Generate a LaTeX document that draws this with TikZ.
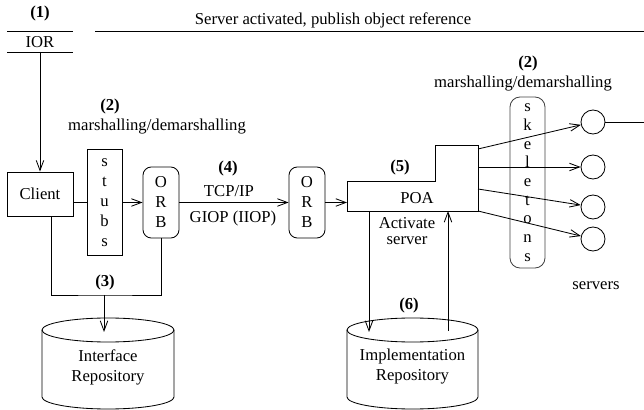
\documentclass[tikz,border=0pt]{standalone}
\usepackage{fontspec}
\setmainfont{Liberation Serif}
\usetikzlibrary{arrows.meta}

\begin{document}
\begin{tikzpicture}[x=0.6pt,y=-0.6pt,line width=0.5pt,
    >={Straight Barb[length=6pt,width=4.5pt]},
    box/.style={draw,inner sep=0pt,align=center},
    orb/.style={draw,rounded corners=5pt,inner sep=0pt,align=center,
        minimum width=21.6pt,minimum height=42.6pt},
    srv/.style={draw,circle,inner sep=0pt,minimum size=14.4pt},
    num/.style={font=\bfseries}]
\useasboundingbox (0,0) rectangle (644,410);
% object reference
\node[num] (n1) at (40,13) {(1)};
\node (ior) at (40,42) {IOR};
\draw (7,31) -- (73,31) (7,52) -- (73,52);
\node (pub) at (333,20) {Server activated, publish object reference};
\draw (95,31) -- (644,31);
\coordinate (iorb) at (40,52);
% client side
\node[box,minimum width=39.6pt,minimum height=26.4pt] (client) at (40,194) {Client};
\node[box,minimum width=21pt,minimum height=64pt] (stubs) at (104.5,202.5) {s\\t\\u\\b\\s};
\node[orb] (orbL) at (161,202.5) {O\\R\\B};
\node[orb] (orbR) at (307,202.5) {O\\R\\B};
\node[num] (n2a) at (110,106) {(2)};
\node (m1) at (157,127) {marshalling/demarshalling};
\draw[->] (iorb) -- (client);
\draw (client.east |- stubs) -- (stubs);
\draw[->] (stubs) -- (orbL);
\draw[->] (orbL) -- (orbR);
\node[num] (n4) at (228,168) {(4)};
\node (tcp) at (229,191) {TCP/IP};
\node (giop) at (233,218) {GIOP (IIOP)};
% interface repository
\coordinate (join) at (104,295);
\coordinate (irtop) at (104,332);
\draw ([xshift=6.6pt]client.south) |- (join) -| (orbL.south);
\draw[->] (join) -- (irtop);
\node[num] (n3) at (105,282) {(3)};
\draw (42,330) -- (42,397) arc[start angle=180,end angle=360,x radius=39.6pt,y radius=7.2pt] -- (174,330);
\draw (108,330) ellipse[x radius=39.6pt,y radius=7.2pt];
\node[align=center] (irep) at (108,367) {Interface\\Repository};
% POA
\draw (347,181) -- (435,181) -- (435,145) -- (478,145) -- (478,211) -- (347,211) -- cycle;
\coordinate (poaW) at (347,202.5);
\node (poa) at (417,198) {POA};
\node[num] (n5) at (400,167) {(5)};
\draw[->] (orbR) -- (poaW);
\node[align=center,font={\fontsize{10}{10}\selectfont}] (act) at (407,231) {Activate\\server};
% implementation repository
\coordinate (poaS1) at (369,211);
\coordinate (poaS2) at (448,211);
\coordinate (imtop1) at (369,332);
\coordinate (imtop2) at (448,331);
\draw[->] (poaS1) -- (imtop1);
\draw[->] (imtop2) -- (poaS2);
\node[num] (n6) at (409,305) {(6)};
\draw (347,330) -- (347,397) arc[start angle=180,end angle=360,x radius=39.3pt,y radius=7.2pt] -- (478,330);
\draw (412.5,330) ellipse[x radius=39.3pt,y radius=7.2pt];
\node[align=center] (impl) at (412.5,367) {Implementation\\Repository};
% skeletons and servers
\node[num] (n2b) at (528,63) {(2)};
\node (m2) at (523,84) {marshalling/demarshalling};
\node[draw=black!75,rounded corners=6pt,inner sep=0pt,align=center,
    minimum width=21pt,minimum height=102.6pt,font={\fontsize{10}{11.2}\selectfont}]
    (skel) at (527.5,182.5) {s\\k\\e\\l\\e\\t\\o\\n\\s};
\node[srv] (s1) at (593,122) {};
\node[srv] (s2) at (593,167) {};
\node[srv] (s3) at (593,207) {};
\node[srv] (s4) at (593,239) {};
\coordinate (p1) at (478,149);
\coordinate (p2) at (478,167);
\coordinate (p3) at (478,189);
\coordinate (p4) at (478,211);
\draw[->] (p1) -- (s1);
\draw[->] (p2) -- (s2);
\draw[->] (p3) -- (s3);
\draw[->] (p4) -- (s4);
\draw (s1.east) -- (644,122);
\node (servers) at (596,286) {servers};
\end{tikzpicture}
\end{document}
